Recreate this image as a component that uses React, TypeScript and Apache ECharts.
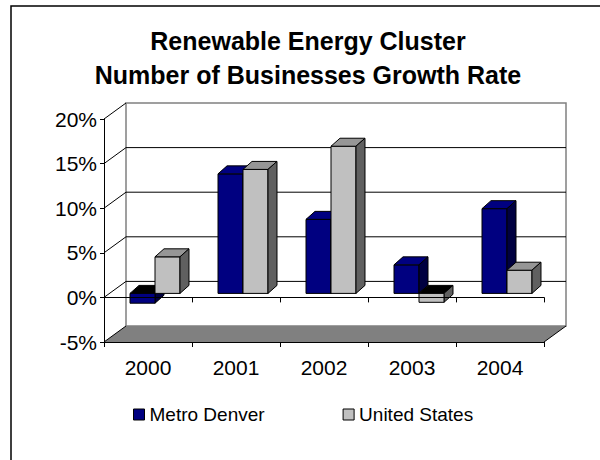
import React, { useEffect, useRef } from "react";
import * as echarts from "echarts";

const categories = ["2000", "2001", "2002", "2003", "2004"];
const metroDenver = [-1.1, 13.4, 8.3, 3.2, 9.5];
const unitedStates = [4.1, 13.9, 16.5, -1.0, 2.6];
const yTicks = [-5, 0, 5, 10, 15, 20];
const seriesNames = ["Metro Denver", "United States"];

const FONT = "'Liberation Sans', Arial, sans-serif";
const WALL = [22, -16];
const BAR_SHIFT = [7, -4];
const BAR_DEPTH = [9, -8];
const BAR_FRAC = 0.284;

const palettes = [
  { front: "#000080", top: "#000080", side: "#000040" },
  { front: "#C0C0C0", top: "#969696", side: "#606060" },
];

function frameRender(params: any, api: any) {
  const band = api.size([1, 0])[0];
  const xl = api.coord([0, 0])[0] - band / 2;
  const xr = api.coord([categories.length - 1, 0])[0] + band / 2;
  const yMin = api.coord([0, yTicks[0]])[1];
  const yMax = api.coord([0, yTicks[yTicks.length - 1]])[1];
  const [dx, dy] = WALL;
  const children: any[] = [];
  children.push({
    type: "rect",
    shape: { x: xl + dx, y: yMax + dy, width: xr - xl, height: yMin - yMax },
    style: { fill: "#ffffff", stroke: "#808080", lineWidth: 1.5 },
  });
  children.push({
    type: "polygon",
    shape: { points: [[xl, yMin], [xr, yMin], [xr + dx, yMin + dy], [xl + dx, yMin + dy]] },
    style: { fill: "#808080", stroke: "none" },
  });
  yTicks.forEach((v, i) => {
    const y = api.coord([0, v])[1];
    if (i > 0 && i < yTicks.length - 1) {
      children.push({
        type: "line",
        shape: { x1: xl + dx, y1: y + dy, x2: xr + dx, y2: y + dy },
        style: { stroke: "#000", lineWidth: 1 },
      });
    }
    children.push({
      type: "line",
      shape: { x1: xl, y1: y, x2: xl + dx, y2: y + dy },
      style: { stroke: "#000", lineWidth: 1 },
    });
  });
  children.push({
    type: "line",
    shape: { x1: xr, y1: yMin, x2: xr + dx, y2: yMin + dy },
    style: { stroke: "#000", lineWidth: 1 },
  });
  return { type: "group", children };
}

function barRender(seriesIdx: number) {
  const pal = palettes[seriesIdx];
  return (params: any, api: any) => {
    const idx = api.value(0);
    const v = api.value(1);
    const band = api.size([1, 0])[0];
    const c = api.coord([idx, 0]);
    const t = api.coord([idx, v]);
    const bw = band * BAR_FRAC;
    const x1 = (seriesIdx === 0 ? c[0] - bw : c[0]) + BAR_SHIFT[0];
    const x2 = x1 + bw;
    const y0 = c[1] + BAR_SHIFT[1];
    const yv = t[1] + BAR_SHIFT[1];
    const [dx, dy] = BAR_DEPTH;
    const st = { stroke: "#000", lineWidth: 1 };
    const children: any[] = [];
    if (v >= 0) {
      children.push({
        type: "rect",
        shape: { x: x1, y: yv, width: bw, height: y0 - yv },
        style: { fill: pal.front, ...st },
      });
      children.push({
        type: "polygon",
        shape: { points: [[x1, yv], [x2, yv], [x2 + dx, yv + dy], [x1 + dx, yv + dy]] },
        style: { fill: pal.top, ...st },
      });
      children.push({
        type: "polygon",
        shape: { points: [[x2, yv], [x2 + dx, yv + dy], [x2 + dx, y0 + dy], [x2, y0]] },
        style: { fill: pal.side, ...st },
      });
    } else {
      children.push({
        type: "polygon",
        shape: { points: [[x1, y0], [x2, y0], [x2 + dx, y0 + dy], [x1 + dx, y0 + dy]] },
        style: { fill: "#000000", ...st },
      });
      children.push({
        type: "polygon",
        shape: { points: [[x2, y0], [x2 + dx, y0 + dy], [x2 + dx, yv + dy], [x2, yv]] },
        style: { fill: pal.side, ...st },
      });
      children.push({
        type: "rect",
        shape: { x: x1, y: y0, width: bw, height: yv - y0 },
        style: { fill: pal.front, ...st },
      });
    }
    return { type: "group", children };
  };
}

export default function App() {
  const ref = useRef<HTMLDivElement>(null);
  useEffect(() => {
    if (!ref.current) return;
    const chart = echarts.init(ref.current, null, { renderer: "svg" });
    const option: any = {
      animation: false,
      backgroundColor: "#ffffff",
      title: {
        text: "Renewable Energy Cluster\nNumber of Businesses Growth Rate",
        left: 308,
        top: 24,
        padding: 0,
        textAlign: "center",
        textStyle: {
          fontFamily: FONT,
          fontSize: 25,
          fontWeight: "bold",
          color: "#000",
          lineHeight: 34,
        },
      },
      legend: {
        left: 128,
        top: 400,
        itemWidth: 11,
        itemHeight: 11,
        itemGap: 78,
        icon: "rect",
        textStyle: { fontFamily: FONT, fontSize: 19, color: "#000" },
        data: [
          { name: seriesNames[0], itemStyle: { color: palettes[0].front, borderColor: "#000", borderWidth: 1 } },
          { name: seriesNames[1], itemStyle: { color: palettes[1].front, borderColor: "#000", borderWidth: 1 } },
        ],
      },
      graphic: [
        {
          type: "rect",
          shape: { x: 11, y: 6, width: 700, height: 700 },
          style: { fill: "none", stroke: "#000", lineWidth: 1.5 },
          z: 100,
        },
      ],
      grid: { left: 104, top: 119, width: 440, height: 223, containLabel: false },
      xAxis: [
        {
          type: "category",
          data: categories,
          position: "bottom",
          z: 10,
          axisLine: { onZero: false, lineStyle: { color: "#000", width: 1 } },
          axisTick: { show: true, length: 5, lineStyle: { color: "#000" } },
          axisLabel: { fontFamily: FONT, fontSize: 21, color: "#000", margin: 15 },
          splitLine: { show: false },
        },
        {
          type: "category",
          data: categories,
          position: "top",
          z: 10,
          axisLine: { onZero: true, lineStyle: { color: "#000", width: 1 } },
          axisTick: { show: true, inside: true, length: 5, lineStyle: { color: "#000" } },
          axisLabel: { show: false },
          splitLine: { show: false },
        },
      ],
      yAxis: {
        type: "value",
        min: yTicks[0],
        max: yTicks[yTicks.length - 1],
        interval: 5,
        z: 10,
        axisLine: { show: true, lineStyle: { color: "#000", width: 1 } },
        axisTick: { show: true, length: 4, lineStyle: { color: "#000" } },
        axisLabel: {
          fontFamily: FONT,
          fontSize: 21,
          color: "#000",
          margin: 7,
          formatter: (v: number) => v + "%",
        },
        splitLine: { show: false },
      },
      series: [
        {
          type: "custom",
          name: "frame",
          z: 1,
          silent: true,
          renderItem: frameRender,
          data: [[0, 0]],
        },
        {
          type: "custom",
          name: seriesNames[0],
          z: 2,
          itemStyle: { color: palettes[0].front },
          renderItem: barRender(0),
          data: categories.map((c, i) => [i, metroDenver[i]]),
        },
        {
          type: "custom",
          name: seriesNames[1],
          z: 2,
          itemStyle: { color: palettes[1].front },
          renderItem: barRender(1),
          data: categories.map((c, i) => [i, unitedStates[i]]),
        },
      ],
    };
    chart.setOption(option);
    return () => chart.dispose();
  }, []);
  return (
    <div
      ref={ref}
      style={{ position: "fixed", left: 0, top: 0, width: 600, height: 460, background: "#fff" }}
    />
  );
}
